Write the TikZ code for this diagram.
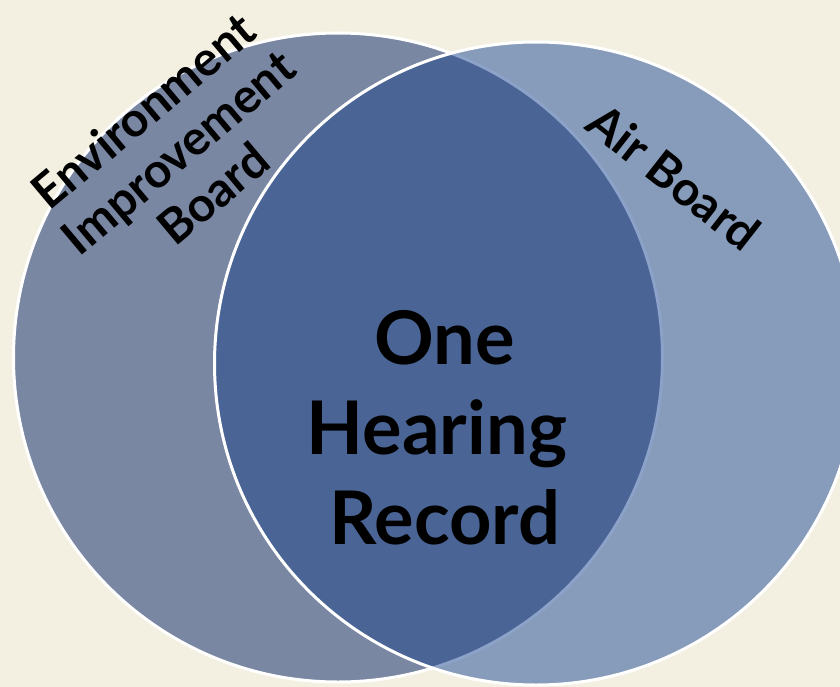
\documentclass[tikz,border=0pt]{standalone}
\usepackage{fontspec}
\setmainfont{Lato}
\begin{document}
\begin{tikzpicture}[x=1pt,y=-1pt,
  lbl/.style={font=\bfseries\fontsize{48}{54}\selectfont, align=center, inner sep=0pt},
  mainlbl/.style={font=\bfseries\fontsize{74}{90}\selectfont, align=center, inner sep=0pt}]
\definecolor{bg}{HTML}{F3F0E2}
\definecolor{leftc}{HTML}{7A87A3}
\definecolor{rightc}{HTML}{879BBA}
\definecolor{midc}{HTML}{4A6595}
\definecolor{faint}{HTML}{8CA2C8}
\fill[bg] (0,0) rectangle (840,687);
\useasboundingbox (0,0) rectangle (840,687);
\clip (0,0) rectangle (840,687);
\coordinate (cl) at (338,357.5);
\coordinate (cr) at (536,363.5);
% left circle
\fill[leftc] (cl) circle (324.5);
\draw[white, line width=3] (cl) circle (324.5);
% right circle
\fill[rightc] (cr) circle (321.5);
\begin{scope}
  \clip (cl) circle (324.5);
  \fill[midc] (cr) circle (321.5);
\end{scope}
\begin{scope}
  \clip (cr) circle (321.5);
  \draw[faint, line width=3] (cl) circle (324.5);
\end{scope}
\draw[white, line width=3] (cr) circle (321.5);
% labels
\node[mainlbl] (m) at (445,428) {One\\\hbox{Hearing\kern16pt}\\Record};
\node[lbl, rotate=40] (l) at (178,152) {Environment\\Improvement\\Board};
\node[lbl, rotate=-38] (r) at (674,177) {Air Board};
\end{tikzpicture}
\end{document}
